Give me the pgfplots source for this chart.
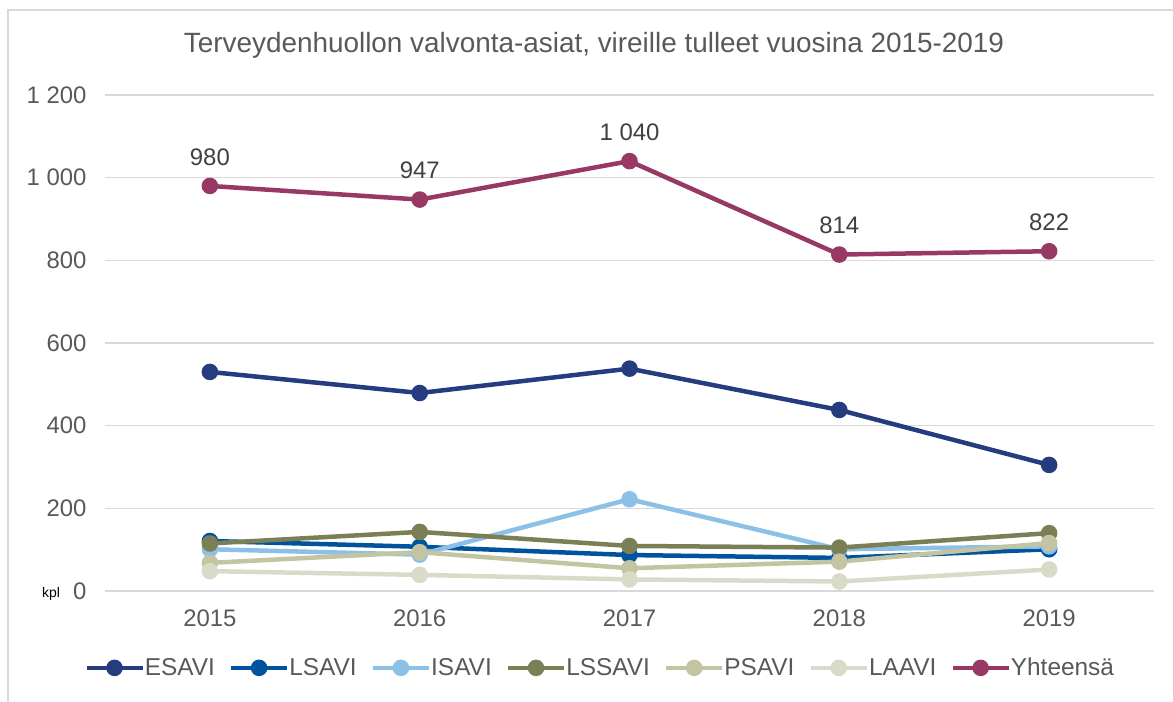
\documentclass[border=0pt]{standalone}
\usepackage{pgfplots}
\pgfplotsset{compat=1.18}
\usepackage{fontspec}
\setmainfont{Liberation Sans}
\definecolor{cEs}{HTML}{253C7E}
\definecolor{cLs}{HTML}{00539F}
\definecolor{cIs}{HTML}{8DC0E6}
\definecolor{cLss}{HTML}{7B7F55}
\definecolor{cPs}{HTML}{C3C4A2}
\definecolor{cLa}{HTML}{D9DBC9}
\definecolor{cYh}{HTML}{973865}
\definecolor{txt}{HTML}{595959}
\definecolor{gridc}{HTML}{D9D9D9}
\begin{document}
\begin{tikzpicture}
\path[use as bounding box] (-105bp,-111bp) rectangle (1068bp,591bp);
\draw[gridc, line width=1.5bp] (-97bp,-111bp) -- (-97bp,581bp) -- (1068bp,581bp);
\begin{axis}[
  scale only axis,
  width=1049bp, height=496bp,
  xmin=2014.5, xmax=2019.5, ymin=0, ymax=1200,
  axis line style={draw=none},
  major tick length=0pt,
  xtick={2015,2016,2017,2018,2019},
  xticklabels={2015,2016,2017,2018,2019},
  ytick={0,200,400,600,800,1000,1200},
  yticklabels={0,200,400,600,800,1 000,1 200},
  ymajorgrids,
  grid style={gridc, line width=1.5bp},
  tick label style={font=\fontsize{24}{28}\selectfont, text=txt},
  xticklabel style={yshift=-15bp},
  yticklabel style={xshift=-15bp},
  clip=false,
  every axis plot/.append style={line width=4.5bp, mark=*, mark size=6bp},
  legend columns=7,
  legend style={draw=none, fill=none, at={(0.472,-0.155)}, anchor=center,
    font=\fontsize{24.5}{28}\selectfont, text=txt,
    /tikz/every even column/.append style={column sep=12bp},
    /tikz/every odd column/.append style={column sep=-2bp}},
  legend image code/.code={\draw[mark repeat=2,mark phase=2,#1] plot coordinates {(0bp,0bp) (28bp,0bp) (56bp,0bp)};},
]
\addplot[cEs, mark options={fill=cEs}] coordinates {(2015,530) (2016,479) (2017,538) (2018,438) (2019,305)};
\addlegendentry{ESAVI}
\addplot[cLs, mark options={fill=cLs}] coordinates {(2015,121) (2016,107) (2017,87) (2018,80) (2019,101)};
\addlegendentry{LSAVI}
\addplot[cIs, mark options={fill=cIs}] coordinates {(2015,101) (2016,88) (2017,222) (2018,101) (2019,108)};
\addlegendentry{ISAVI}
\addplot[cLss, mark options={fill=cLss}] coordinates {(2015,115) (2016,143) (2017,109) (2018,105) (2019,140)};
\addlegendentry{LSSAVI}
\addplot[cPs, mark options={fill=cPs}] coordinates {(2015,68) (2016,94) (2017,55) (2018,71) (2019,116)};
\addlegendentry{PSAVI}
\addplot[cLa, mark options={fill=cLa}] coordinates {(2015,48) (2016,39) (2017,28) (2018,23) (2019,52)};
\addlegendentry{LAAVI}
\addplot[cYh, mark options={fill=cYh},
  point meta=explicit symbolic,
  nodes near coords,
  nodes near coords style={font=\fontsize{24}{28}\selectfont, text=black!75, anchor=south, yshift=15bp}]
  coordinates {(2015,980) [980] (2016,947) [947] (2017,1040) [1 040] (2018,814) [814] (2019,822) [822]};
\addlegendentry{Yhteensä}
\end{axis}
\node[font=\fontsize{28}{32}\selectfont, text=txt] at (489bp,546bp) {Terveydenhuollon valvonta-asiat, vireille tulleet vuosina 2015-2019};
\node[font=\fontsize{14}{16}\selectfont, text=black] at (-54bp,-3bp) {kpl};
\end{tikzpicture}
\end{document}
